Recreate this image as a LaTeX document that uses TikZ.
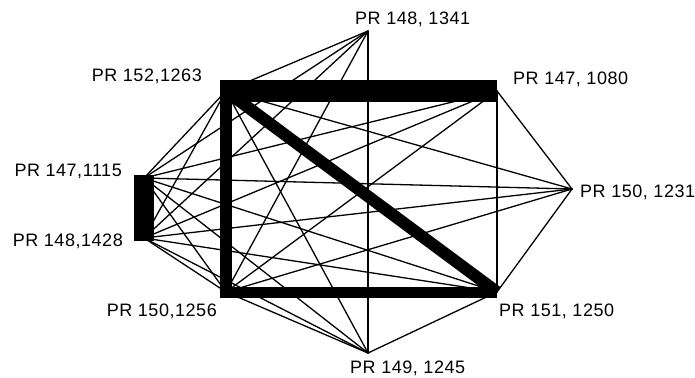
\documentclass[tikz,border=0pt]{standalone}
\usepackage{fontspec}
\setmainfont{Liberation Sans}
\newfontfamily\tagfont[LetterSpace=3]{Liberation Sans}

\begin{document}
\begin{tikzpicture}[x=1pt, y=-1pt,
        link/.style={line width=1.3pt, line cap=round},
        bond/.style={line width=#1},
        tag/.style={inner sep=0pt, text height=13pt, text depth=0pt,
                    font=\tagfont\fontsize{18}{20}\selectfont}]
        \useasboundingbox (0,0) rectangle (695,377);

        % Sample positions
        \coordinate (n1341) at (368,31);
        \coordinate (n1263) at (226,91);
        \coordinate (n1080) at (497,91);
        \coordinate (n1115) at (144,178);
        \coordinate (n1428) at (144,238);
        \coordinate (n1231) at (572,189);
        \coordinate (n1256) at (226,292);
        \coordinate (n1250) at (497,292);
        \coordinate (n1245) at (368,353);

        % Weak links
        \foreach \a/\b in {1341/1263, 1341/1115, 1341/1428, 1341/1256, 1341/1245,
                           1263/1115, 1263/1428, 1263/1231, 1263/1245,
                           1080/1115, 1080/1428, 1080/1231, 1080/1256, 1080/1250,
                           1115/1231, 1115/1256, 1115/1250, 1115/1245,
                           1428/1231, 1428/1256, 1428/1250, 1428/1245,
                           1231/1256, 1231/1250,
                           1256/1245,
                           1250/1245} {
            \draw[link] (n\a) -- (n\b);
        }

        % Strong links
        \draw[bond=22pt, shorten <=-6pt] (n1263) -- (n1080);
        \draw[bond=12pt, shorten <=-11pt, shorten >=-5.5pt] (n1263) -- (n1256);
        \draw[bond=11pt] (n1256) -- (n1250);
        \draw[bond=12pt] (n1263) -- (n1250);
        \draw[bond=20pt, shorten <=-3pt, shorten >=-3pt] (n1115) -- (n1428);

        % Labels
        \node[tag, anchor=west] (l1341) at (355,18.5) {PR 148, 1341};
        \node[tag, anchor=east] (l1263) at (202,75) {PR 152,1263};
        \node[tag, anchor=west] (l1080) at (513,78.5) {PR 147, 1080};
        \node[tag, anchor=east] (l1115) at (122,170) {PR 147,1115};
        \node[tag, anchor=east] (l1428) at (123,240) {PR 148,1428};
        \node[tag, anchor=west] (l1231) at (580,191) {PR 150, 1231};
        \node[tag, anchor=east] (l1256) at (217,310) {PR 150,1256};
        \node[tag, anchor=west] (l1250) at (499,310) {PR 151, 1250};
        \node[tag, anchor=west] (l1245) at (350,366.5) {PR 149, 1245};
\end{tikzpicture}
\end{document}
